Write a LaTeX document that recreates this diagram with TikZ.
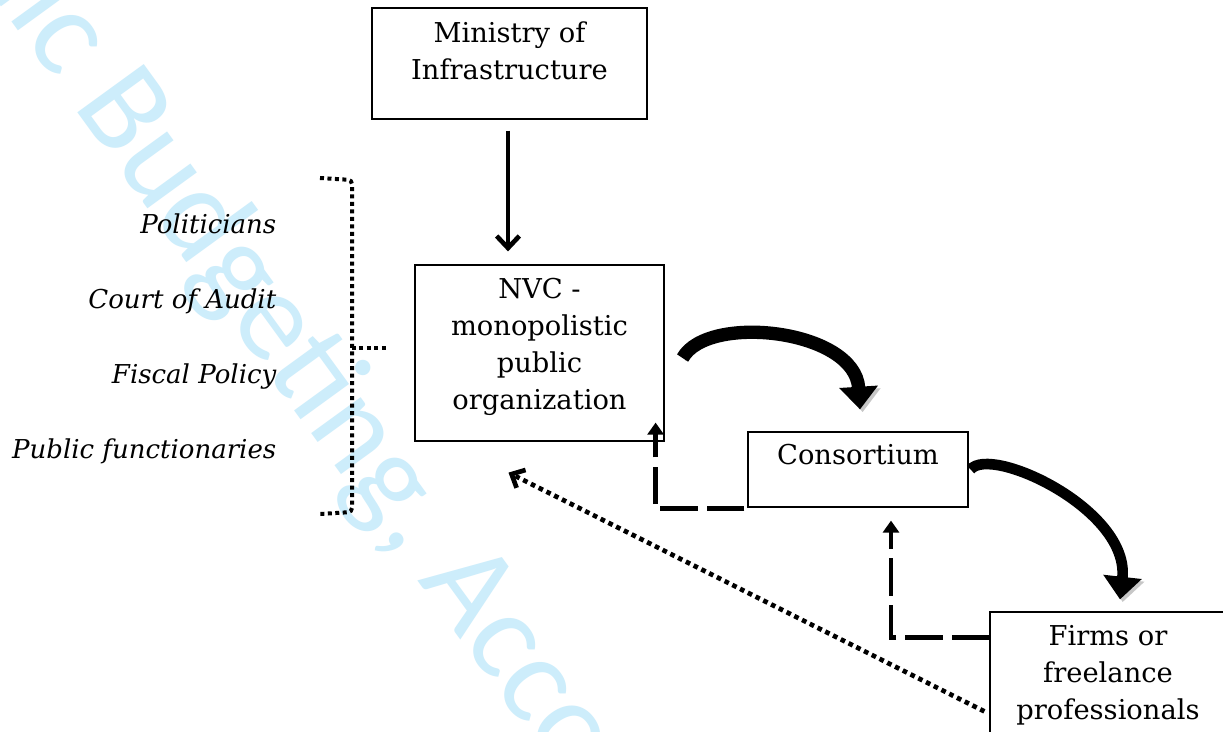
\documentclass[tikz,border=0pt]{standalone}
\usepackage{fontspec}
\setmainfont{DejaVu Serif}
\newfontfamily\wmfont{Carlito}
\usetikzlibrary{positioning,arrows.meta}
\newcommand\px{0.75pt}
\newcommand\boxfont{\fontsize{20.5}{27.75}\selectfont}
\newcommand\labfont{\fontsize{19.5}{24}\selectfont\itshape}
\definecolor{wmblue}{RGB}{205,237,251}

\begin{document}
\begin{tikzpicture}[x=0.75pt,y=-0.75pt,
    box/.style={draw,line width=0.9pt,align=center,font=\boxfont,inner sep=0pt},
    lab/.style={anchor=base east,font=\labfont},
    down/.style={line width=3.5pt,-{Straight Barb[length=9pt,width=17pt]}},
    bend/.style={line width=#1,-{Triangle[length=17pt,width=28pt]},
        preaction={draw=black!22,transform canvas={xshift=2pt,yshift=-2pt}}},
    back/.style={line width=3.5pt,dash pattern=on 28pt off 7pt,-{Triangle[length=9pt,width=12pt]}},
    dots/.style={line width=3.5pt,dash pattern=on 3.5pt off 3pt,-{Straight Barb[length=8pt,width=15pt]}},
    brk/.style={line width=3pt,dash pattern=on 3pt off 2.6pt}]
    \useasboundingbox (0,0) rectangle (1223,731);
    \fill[white] (0,0) rectangle (1223,731);
    % watermark
    \node[anchor=base west,rotate=-54,text=wmblue,inner sep=0pt,
        font=\wmfont\fontsize{96}{96}\selectfont] (wm) at (-129,-172) {Public Budgeting, Accounting};

    % boxes
    \node[box,minimum width=275*\px,minimum height=111*\px,text depth=19pt] (mini) at (509.5,63.5) {Ministry of\\Infrastructure};
    \node[box,minimum width=249*\px,minimum height=176*\px,text depth=14.25pt] (nvc) at (539.5,353) {NVC -\\monopolistic\\public\\organization};
    \node[box,minimum width=220*\px,minimum height=75*\px,text depth=22.5pt] (cons) at (858,469.5) {Consortium};
    \node[box,minimum width=236*\px,minimum height=148*\px,text depth=20.75pt] (firm) at (1108,686) {Firms or\\freelance\\professionals};

    % left side
    \node[lab] (pol) at (281,233) {Politicians};
    \node[lab] (coa) at (281,308) {Court of Audit};
    \node[lab] (fis) at (281,383) {Fiscal Policy};
    \node[lab] (pub) at (281,458) {Public functionaries};
    \draw[brk,rounded corners=3pt] (320,178) -- (352,180) -- (352,512) -- (320,514);
    \draw[brk] (352,348) -- (386,348);

    % arrows
    \draw[down] ([shift={(-1.5,11)}]mini.south) -- ([shift={(-31.5,-13)}]nvc.north);
    \draw[bend=10pt] ([shift={(18,5)}]nvc.east) .. controls +(25,-45) and +(-5,-80) .. ([shift={(2,-22)}]cons.north);
    \draw[bend=8pt] ([shift={(2,0)}]cons.east) .. controls +(20,-25) and +(10,-90) .. ([shift={(12,-12)}]firm.north);
    \draw[back] ([shift={(-3,1)}]cons.south west) -| ([shift={(-9,-19)}]nvc.south east);
    \draw[back] ([shift={(0,26)}]firm.north west) -| ([shift={(33,13)}]cons.south);
    \draw[dots] ([shift={(-5,100)}]firm.north west) -- ([shift={(-31,31)}]nvc.south);
\end{tikzpicture}
\end{document}
